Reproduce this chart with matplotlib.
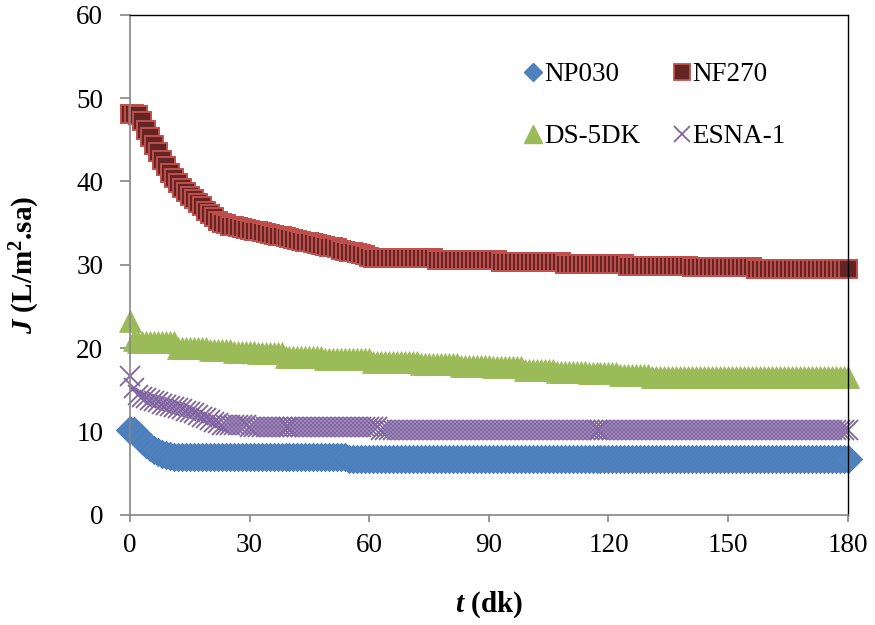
import matplotlib
matplotlib.use('Agg')
import matplotlib.pyplot as plt
from matplotlib.lines import Line2D
import numpy as np

plt.rcParams['font.family'] = ['Liberation Serif', 'DejaVu Serif']
plt.rcParams['mathtext.fontset'] = 'custom'
plt.rcParams['mathtext.rm'] = 'Liberation Serif:bold'
plt.rcParams['mathtext.it'] = 'Liberation Serif:bold:italic'
plt.rcParams['mathtext.bf'] = 'Liberation Serif:bold'

# time in minutes (one reading per minute)
t = np.arange(0, 181)

# flux values (L/m2.h)
np030 = ([10.2, 10.1, 9.6, 9.0, 8.5, 8.1, 7.8, 7.5, 7.3, 7.15, 7.05]
         + [7.0] * 30 + [6.9] * 14 + [6.75] * 126)

nf270 = ([48.1, 48.1, 48.0,
          47.2, 46.2, 45.3, 44.4, 43.5, 42.6, 41.8, 41.0, 40.4, 39.8,
          39.2, 38.7, 38.3, 37.9, 37.4, 37.0, 36.5, 36.1, 35.7, 35.3,
          35.0, 34.9, 34.7, 34.6, 34.5, 34.4, 34.3, 34.2, 34.1, 34.0,
          33.9, 33.8, 33.7, 33.6, 33.5, 33.4, 33.3, 33.2, 33.1, 33.0,
          32.9, 32.8, 32.7, 32.6, 32.5, 32.4, 32.3, 32.2, 32.1, 32.0,
          31.8, 31.7, 31.6, 31.5, 31.4, 31.3, 31.15, 31.0]
         + [30.8] * 16 + [30.55] * 16 + [30.35] * 16 + [30.15] * 16
         + [29.9] * 16 + [29.7] * 16 + [29.45] * 24)

ds5dk = ([23.3, 21.0] + [20.7] * 10 + [20.0] * 8 + [19.8] * 6 + [19.6] * 6
         + [19.4] * 7 + [19.0] * 10 + [18.7] * 12 + [18.4] * 12 + [18.1] * 10
         + [17.9] * 8 + [17.7] * 8 + [17.4] * 8 + [17.2] * 8 + [17.0] * 8
         + [16.8] * 8 + [16.5] * 50)

esna1 = ([16.7, 15.2, 14.4, 14.2, 14.0, 13.8, 13.7, 13.5, 13.3, 13.2, 13.1,
          12.9, 12.8, 12.7, 12.5, 12.3, 12.2, 12.0, 11.8, 11.6, 11.4, 11.2, 11.0]
         + [10.85] * 7 + [10.5] * 33 + [10.2] * 118)

names = ['NP030', 'NF270', 'DS-5DK', 'ESNA-1']

fig = plt.figure(figsize=(8.75, 6.25), dpi=100)
ax = fig.add_axes([130/875, 110/625, 717.7/875, 500.3/625])

ax.plot(t, np030, ls='none', marker='D', ms=14.5, mfc='#4F81BD', mec='#4A7EBB', mew=0.8, clip_on=False)
ax.plot(t, nf270, ls='none', marker='s', ms=13, mfc='#632523', mec='#C0504D', mew=1.4, clip_on=False)
ax.plot(t, ds5dk, ls='none', marker='^', ms=16, mfc='#9BBB59', mec='#9BBB59', mew=0.5, clip_on=False)
ax.plot(t, esna1, ls='none', marker='x', ms=15, mec='#8064A2', mew=1.3, clip_on=False)

ax.set_xlim(0, 180)
ax.set_ylim(0, 60)
ax.set_xticks(np.arange(0, 181, 30))
ax.set_yticks(np.arange(0, 61, 10))

for s in ['left', 'bottom']:
    ax.spines[s].set_color('#868686')
    ax.spines[s].set_linewidth(1.2)
for s in ['top', 'right']:
    ax.spines[s].set_color('black')
    ax.spines[s].set_linewidth(1.0)

ax.tick_params(axis='y', direction='out', length=7.2, width=1.2, color='#868686', labelsize=19.5, pad=12)
ax.tick_params(axis='x', direction='out', length=5, width=1.2, color='#868686', labelsize=19.5, pad=8)

ax.set_xlabel(r'$t$ (dk)', fontsize=21, fontweight='bold')
ax.set_ylabel(r'$J$ (L/m$^{2}$.sa)', fontsize=21, fontweight='bold')
ax.xaxis.set_label_coords(0.5, -0.148)
ax.yaxis.set_label_coords(-0.122, 0.5)

# legend with smaller markers, laid out in two rows
handles = [
    Line2D([], [], ls='none', marker='D', ms=9, mfc='#4F81BD', mec='#4A7EBB'),
    Line2D([], [], ls='none', marker='s', ms=11.5, mfc='#632523', mec='#C0504D', mew=1.3),
    Line2D([], [], ls='none', marker='^', ms=13, mfc='#9BBB59', mec='#9BBB59'),
    Line2D([], [], ls='none', marker='x', ms=12, mec='#8064A2', mew=1.3),
]
order = [0, 2, 1, 3]
ax.legend([handles[i] for i in order], [names[i] for i in order],
          ncol=2, loc='upper left', bbox_to_anchor=(0.549, 0.905),
          frameon=False, fontsize=19.5, handlelength=0.7, handletextpad=0.05,
          columnspacing=1.17, labelspacing=1.37, borderpad=0, borderaxespad=0)

fig.savefig('out.png', dpi=100)
